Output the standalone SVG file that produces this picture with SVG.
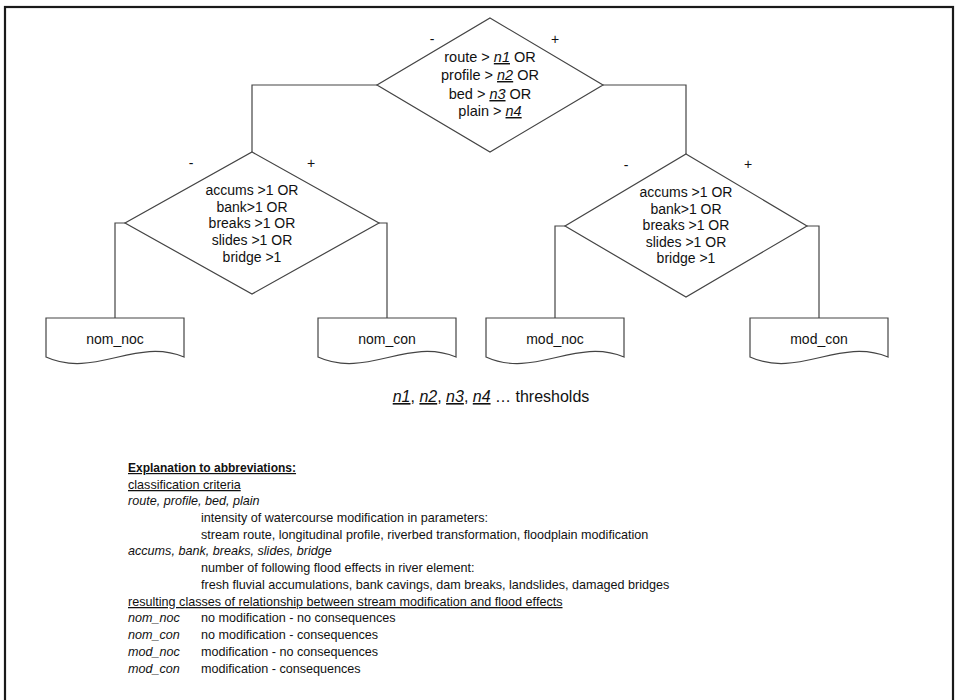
<svg xmlns="http://www.w3.org/2000/svg" width="959" height="700" viewBox="0 0 959 700">
<style>
text{font-family:"Liberation Sans",Arial,sans-serif;fill:#111}
.shape{fill:#fff;stroke:#444;stroke-width:1.2}
.conn{fill:none;stroke:#444;stroke-width:1.2}
.dt{font-size:14px;text-anchor:middle}
.tt{font-size:14.5px;text-anchor:middle}
.pm{font-size:14px;text-anchor:middle}
.bt{font-size:14px;text-anchor:middle}
.n{font-style:italic;text-decoration:underline}
.ex{font-size:12.6px}
.it{font-style:italic}
.ul{text-decoration:underline}
</style>
<rect x="0" y="0" width="959" height="700" fill="#fff"/>
<rect x="5" y="7" width="948" height="720" fill="none" stroke="#1a1a1a" stroke-width="2.2"/>

<g id="connectors">
<polyline class="conn" points="377,85 252,85 252,152"/>
<polyline class="conn" points="603,85 686,85 686,154"/>
<polyline class="conn" points="125,223 115,223 115,318"/>
<polyline class="conn" points="379,223 387,223 387,318"/>
<polyline class="conn" points="565,226 555,226 555,318"/>
<polyline class="conn" points="807,226 819,226 819,318"/>
</g>

<g id="d_top">
<polygon class="shape" points="490,18 603,85 490,152 377,85"/>
<text class="tt" x="490" y="62">route &gt; <tspan class="n">n1</tspan> OR</text>
<text class="tt" x="490" y="80">profile &gt; <tspan class="n">n2</tspan> OR</text>
<text class="tt" x="490" y="99">bed &gt; <tspan class="n">n3</tspan> OR</text>
<text class="tt" x="490" y="116">plain &gt; <tspan class="n">n4</tspan></text>
<text class="pm" x="432" y="44">-</text>
<text class="pm" x="555" y="44">+</text>
</g>

<g id="d_left">
<polygon class="shape" points="252,152 379,223 252,294 125,223"/>
<text class="dt" x="252" y="195">accums &gt;1 OR</text>
<text class="dt" x="252" y="211.5">bank&gt;1 OR</text>
<text class="dt" x="252" y="228">breaks &gt;1 OR</text>
<text class="dt" x="252" y="244.5">slides &gt;1 OR</text>
<text class="dt" x="252" y="261.5">bridge &gt;1</text>
<text class="pm" x="191" y="168">-</text>
<text class="pm" x="311" y="168">+</text>
</g>

<g id="d_right">
<polygon class="shape" points="686,154 807,226 686,297 565,226"/>
<text class="dt" x="686" y="197">accums &gt;1 OR</text>
<text class="dt" x="686" y="213.5">bank&gt;1 OR</text>
<text class="dt" x="686" y="230">breaks &gt;1 OR</text>
<text class="dt" x="686" y="246.5">slides &gt;1 OR</text>
<text class="dt" x="686" y="263">bridge &gt;1</text>
<text class="pm" x="626" y="170">-</text>
<text class="pm" x="748" y="169">+</text>
</g>

<g id="nom_noc">
<path class="shape" d="M46,318 H184 V357 C136,337 94,379 46,357 Z"/>
<text class="bt" x="115" y="344">nom_noc</text>
</g>
<g id="nom_con">
<path class="shape" d="M318,318 H456 V357 C408,337 366,379 318,357 Z"/>
<text class="bt" x="387" y="344">nom_con</text>
</g>
<g id="mod_noc">
<path class="shape" d="M486,318 H624 V357 C576,337 534,379 486,357 Z"/>
<text class="bt" x="555" y="344">mod_noc</text>
</g>
<g id="mod_con">
<path class="shape" d="M750,318 H888 V357 C840,337 798,379 750,357 Z"/>
<text class="bt" x="819" y="344">mod_con</text>
</g>

<g id="thresholds">
<text x="491" y="402" style="font-size:16px;text-anchor:middle"><tspan class="n">n1</tspan>, <tspan class="n">n2</tspan>, <tspan class="n">n3</tspan>, <tspan class="n">n4</tspan> … thresholds</text>
</g>

<g id="explanation" class="ex">
<text x="128" y="472" style="font-weight:bold;font-size:12px;text-decoration:underline">Explanation to abbreviations:</text>
<text x="128" y="489" class="ul">classification criteria</text>
<text x="128" y="505" class="it">route, profile, bed, plain</text>
<text x="201" y="522">intensity of watercourse modification in parameters:</text>
<text x="201" y="539">stream route, longitudinal profile, riverbed transformation, floodplain modification</text>
<text x="128" y="555" class="it">accums, bank, breaks, slides, bridge</text>
<text x="201" y="572">number of following flood effects in river element:</text>
<text x="201" y="589">fresh fluvial accumulations, bank cavings, dam breaks, landslides, damaged bridges</text>
<text x="128" y="606" class="ul">resulting classes of relationship between stream modification and flood effects</text>
<text x="128" y="622" class="it">nom_noc</text><text x="201" y="622">no modification - no consequences</text>
<text x="128" y="639" class="it">nom_con</text><text x="201" y="639">no modification - consequences</text>
<text x="128" y="656" class="it">mod_noc</text><text x="201" y="656">modification - no consequences</text>
<text x="128" y="673" class="it">mod_con</text><text x="201" y="673">modification - consequences</text>
</g>
</svg>
